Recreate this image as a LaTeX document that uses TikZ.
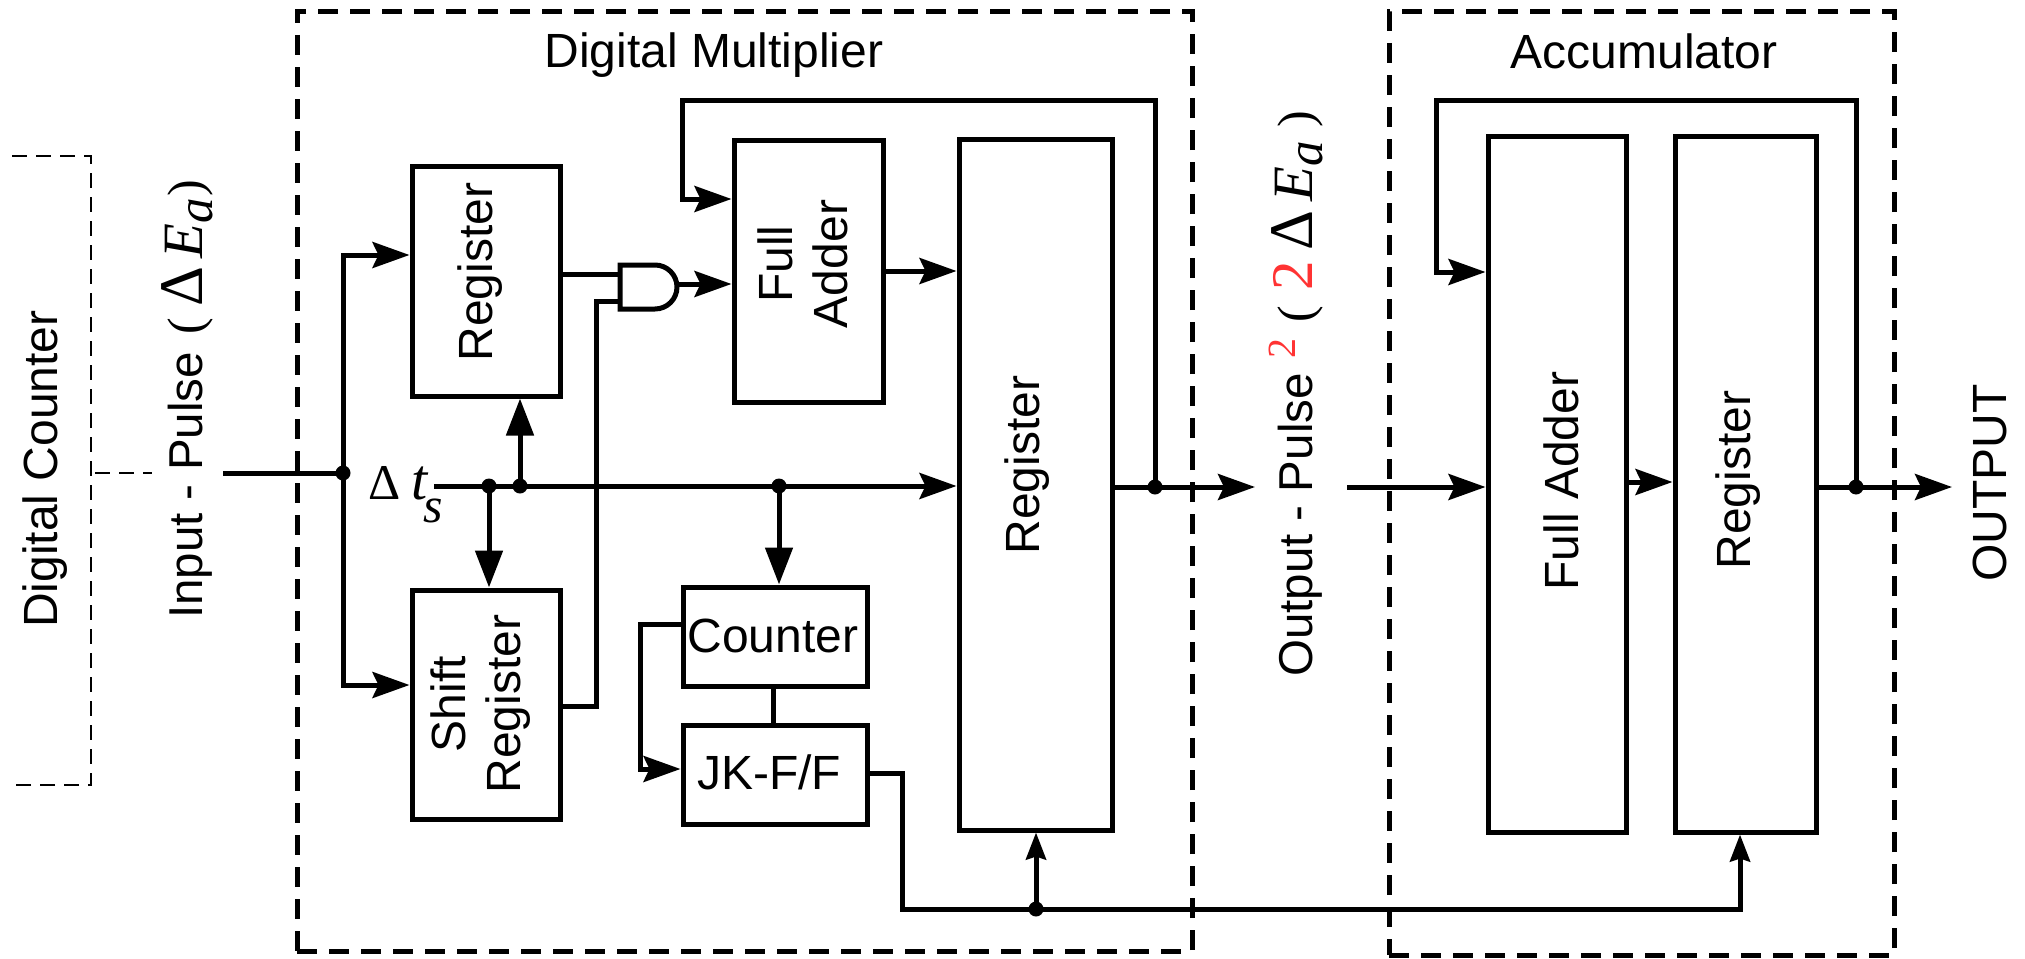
\documentclass[tikz,border=0pt]{standalone}
\usepackage{fontspec}
\newfontfamily\arialf{Liberation Sans}
\newfontfamily\serf{Liberation Serif}
\usetikzlibrary{arrows.meta,calc}
\definecolor{redtwo}{HTML}{FF3333}
\newcommand{\txtf}{\arialf\fontsize{48}{55}\selectfont}
\newcommand{\sidef}{\arialf\fontsize{47.5}{55}\selectfont}
\newcommand{\sz}[2]{{\serf\fontsize{#1}{#1}\selectfont #2}}
\newcommand{\gap}[1]{\hspace{#1pt}}
\newcommand{\dEa}{\sz{62}{Δ}\gap{9}\sz{57}{\itshape E}\raisebox{-10pt}{\sz{51}{\itshape a}}}
\tikzset{
  wire/.style={line width=5pt,line cap=butt,line join=miter},
  arr/.style={wire,-{Stealth[length=37pt,width=26pt,inset=6pt]}},
  darr/.style={wire,-{Stealth[length=37pt,width=27pt,inset=0pt]}},
  sarr/.style={wire,-{Stealth[length=27pt,width=20pt,inset=3pt]}},
  blockbox/.style={draw,line width=5pt,rectangle,inner sep=0pt},
  groupline/.style={line width=5pt,dash pattern=on 20pt off 12pt},
  thinline/.style={line width=2pt,dash pattern=on 15pt off 9pt},
  lab/.style={font=\txtf,inner sep=0pt,align=center},
  vlab/.style={lab,rotate=90},
  sidelab/.style={font=\sidef,inner sep=0pt,rotate=90,anchor=base west},
  jdot/.style={circle,fill=black,inner sep=0pt,minimum size=15pt},
}
\begin{document}
\begin{tikzpicture}[x=1pt,y=-1pt]
\useasboundingbox (0,0) rectangle (2025,958);
% groups
\node[groupline,draw,rectangle,inner sep=0pt,minimum width=895pt,minimum height=939pt] (dm) at (744.5,481.5) {};
\node[groupline,draw,rectangle,inner sep=0pt,minimum width=505pt,minimum height=943pt] (ac) at (1641.5,483.5) {};
\node[lab] (dmt) at (714,55) {Digital Multiplier};
\node[lab] (act) at (1644,51) {Accumulator};
% boxes
\node[blockbox,minimum width=148pt,minimum height=230pt] (reg1) at (486,281) {};
\node[blockbox,minimum width=148pt,minimum height=229pt] (sr) at (486,704.5) {};
\node[blockbox,minimum width=149pt,minimum height=262pt] (fa) at (808.5,271) {};
\node[blockbox,minimum width=153pt,minimum height=691pt] (reg2) at (1035.5,484.5) {};
\node[blockbox,minimum width=184pt,minimum height=99pt] (cnt) at (775,636.5) {};
\node[blockbox,minimum width=184pt,minimum height=99pt] (jk) at (775,774.5) {};
\node[blockbox,minimum width=138pt,minimum height=696pt] (fa2) at (1557,484) {};
\node[blockbox,minimum width=141pt,minimum height=696pt] (reg3) at (1745.5,484) {};
% box labels
\node[vlab] (l1) at (480,272) {Register};
\node[vlab] (l2) at (480.5,704) {Shift\\Register};
\node[vlab] (l3) at (803,264) {Full\\Adder};
\node[vlab] (l4) at (1027,465) {Register};
\node[lab] (l5) at (773,636) {Counter};
\node[lab] (l6) at (769,772) {JK-F/F};
\node[vlab] (l7) at (1561,481) {Full Adder};
\node[vlab] (l8) at (1738,480) {Register};
% side labels
\node[vlab] (dc) at (45,469) {Digital Counter};
\node[sidelab] (ip) at (202,619) {Input - Pulse\gap{17.5}\sz{50}{(}\gap{11}\dEa\gap{1}\sz{50}{)}};
\node[sidelab] (op) at (1312,677) {Output - Pulse\gap{15}\raisebox{17pt}{\sz{40}{\color{redtwo}2}}\gap{16}\sz{50}{(}\gap{15}\sz{59}{\color{redtwo}2}\gap{11}\dEa\gap{13}\sz{50}{)}};
\node[vlab] (ot) at (1990,483) {OUTPUT};
\node[inner sep=0pt,anchor=base west] (dts) at (368,499) {\sz{50}{Δ}\gap{11}\sz{58}{\itshape t}\gap{-4}\raisebox{-23pt}{\sz{50}{\itshape s}}};
% counter bracket
\coordinate (dc1) at (12,156);
\coordinate (dc2) at (91,156);
\coordinate (dc3) at (91,785);
\coordinate (dc4) at (12,785);
\coordinate (st1) at (95,473);
\coordinate (st2) at (152,473);
\draw[thinline] (dc1) -- (dc2) -- (dc3) -- (dc4);
\draw[thinline] (st1) -- (st2);
% junctions
\node[jdot] (j1) at (343,473) {};
\node[jdot] (j2) at (489,486) {};
\node[jdot] (j3) at (520,486) {};
\node[jdot] (j4) at (779,486) {};
\node[jdot] (j5) at (1155,487) {};
\node[jdot] (j6) at (1856,487) {};
\node[jdot] (j7) at (1036,909) {};
% AND gate
\draw[line width=5pt,line join=miter,fill=white] (620,265) -- (655,265) arc[start angle=-90,end angle=90,radius=22] -- (620,309) -- cycle;
\coordinate (gin1) at (620,274);
\coordinate (gin2) at (620,301);
\coordinate (gout) at (679,284);
% input
\coordinate (inp) at (223,473);
\draw[wire] (inp) -- (j1.center);
\draw[arr] (j1.center) |- (reg1.west |- 0,255);
\draw[arr] (j1.center) |- (sr.west |- 0,685);
% time line
\coordinate (ts) at (434,486);
\draw[arr] (ts) -- (reg2.west |- ts);
\draw[darr] (j2.center) -- (j2.center |- sr.north);
\draw[darr] (j3.center) -- (j3.center |- reg1.south);
\draw[darr] (j4.center) -- (j4.center |- cnt.north);
% gate wiring
\draw[wire] (reg1.east |- gin1) -- (gin1);
\coordinate (sw) at (596,301);
\draw[wire] (gin2) -- (sw) |- (sr.east |- 0,706);
\draw[arr] (gout) -- (fa.west |- gout);
\draw[arr] (fa.east |- 0,271) -- (reg2.west |- 0,271);
% feedback 1
\coordinate (fb1) at (682,100);
\draw[arr] (j5.center) |- (fb1) |- (fa.west |- 0,199);
% output
\coordinate (o1) at (1255,487);
\coordinate (i2) at (1347,487);
\draw[wire] (reg2.east |- j5) -- (j5.center);
\draw[arr] (j5.center) -- (o1);
\draw[arr] (i2) -- (fa2.west |- i2);
\draw[arr] (fa2.east |- 0,482) -- (reg3.west |- 0,482);
% accumulator out
\coordinate (o2) at (1952,487);
\draw[wire] (reg3.east |- j6) -- (j6.center);
\draw[arr] (j6.center) -- (o2);
\coordinate (fb2) at (1436,100);
\draw[arr] (j6.center) |- (fb2) |- (fa2.west |- 0,272);
% counter to JK
\draw[wire] (cnt.south -| 773,0) -- (jk.north -| 773,0);
\coordinate (cl) at (640,624);
\draw[arr] (cnt.west |- cl) -- (cl) |- (jk.west |- 0,769);
% JK out
\coordinate (c1) at (902,773);
\coordinate (c2) at (902,909);
\draw[wire] (jk.east |- c1) -- (c1) -- (c2) -- (j7.center);
\coordinate (c3) at (1740,909);
\draw[sarr] (j7.center) -- (c3) -- (c3 |- reg3.south);
\draw[sarr] (j7.center) -- (j7.center |- reg2.south);
\end{tikzpicture}
\end{document}
